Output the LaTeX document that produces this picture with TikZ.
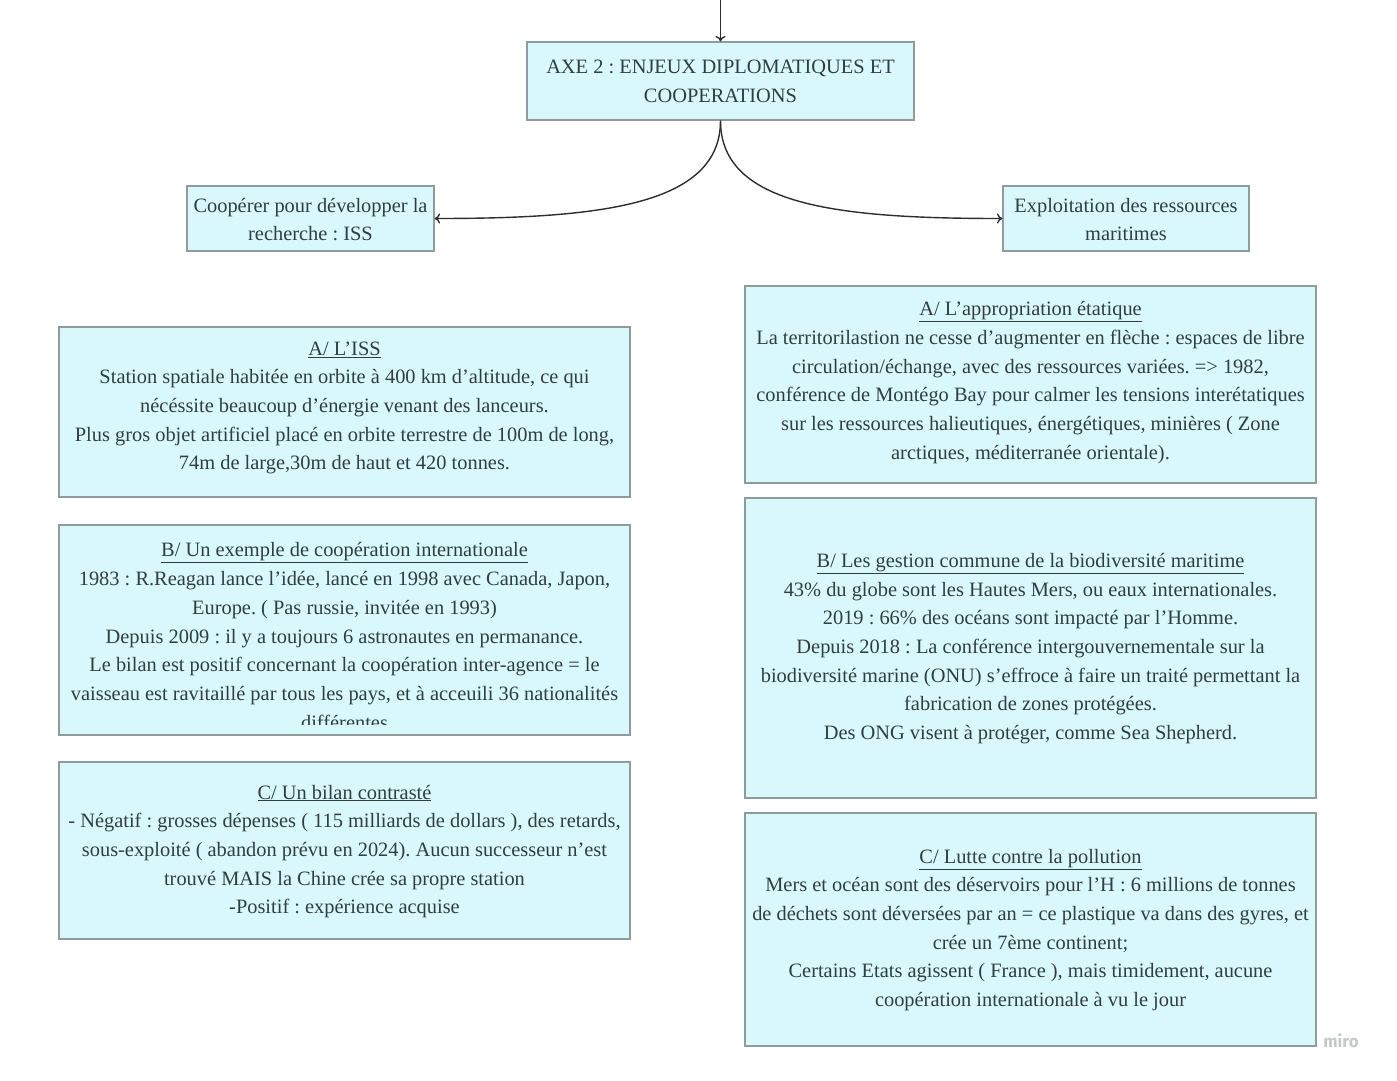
\documentclass[tikz,border=0pt]{standalone}
\usepackage{fontspec}
\setmainfont{Liberation Serif}
\newfontfamily\wmfont{Fira Sans}
\usetikzlibrary{arrows.meta}
\definecolor{boxfill}{HTML}{D9F8FB}
\definecolor{boxline}{HTML}{8E9C9C}
\definecolor{txt}{HTML}{2F3F40}
\definecolor{wirec}{HTML}{2E2E2E}
\definecolor{wmark}{HTML}{C4C8C8}
\begin{document}
\frenchspacing
\begin{tikzpicture}[x=1pt,y=-1pt,
 box/.style={draw=boxline, fill=boxfill, line width=1.2pt, inner sep=0pt},
 body/.style={text=txt, align=center, font=\fontsize{20.4}{28.7}\selectfont\frenchspacing, inner sep=0pt, yshift=-1.5pt},
 wire/.style={draw=wirec, line width=1.4pt, -{To[length=5.5pt,width=10pt]}}]

\useasboundingbox[fill=white] (0,0) rectangle (1397,1080);

% boxes
\node[box, minimum width=387, minimum height=78] (main) at (720.5,81) {};
\node[box, minimum width=247, minimum height=65] (left) at (310.5,218.5) {};
\node[box, minimum width=246, minimum height=65] (right) at (1126,218.5) {};
\node[box, minimum width=571, minimum height=170] (la) at (344.5,412) {};
\node[box, minimum width=571, minimum height=210] (lb) at (344.5,630) {};
\node[box, minimum width=571, minimum height=177] (lc) at (344.5,850.5) {};
\node[box, minimum width=571, minimum height=197] (ra) at (1030.5,384.5) {};
\node[box, minimum width=571, minimum height=300] (rb) at (1030.5,648) {};
\node[box, minimum width=571, minimum height=233] (rc) at (1030.5,929.5) {};

% texts
\node[body] (mainT) at (720.5,79.5) {AXE 2 : ENJEUX DIPLOMATIQUES ET\\COOPERATIONS};
\node[body] (leftT) at (310.5,218) {Coopérer pour développer la\\recherche : ISS};
\node[body] (rightT) at (1126,218) {Exploitation des ressources\\maritimes};

\node[body] (laT) at (344.5,406.5) {\underline{A/ L'ISS}\\
Station spatiale habitée en orbite à 400 km d'altitude, ce qui\\
nécéssite beaucoup d'énergie venant des lanceurs.\\
Plus gros objet artificiel placé en orbite terrestre de 100m de long,\\
74m de large,30m de haut et 420 tonnes.};

\begin{scope}
\clip (lb.north west) rectangle (630,724);
\node[body] (lbT) at (344.5,634.5) {\underline{B/ Un exemple de coopération internationale}\\
1983 : R.Reagan lance l'idée, lancé en 1998 avec Canada, Japon,\\
Europe. ( Pas russie, invitée en 1993)\\
Depuis 2009 : il y a toujours 6 astronautes en permanance.\\
Le bilan est positif concernant la coopération inter-agence = le\\
vaisseau est ravitaillé par tous les pays, et à acceuili 36 nationalités\\
différentes};
\end{scope}

\node[body] (lcT) at (344.5,850) {\underline{C/ Un bilan contrasté}\\
- Négatif : grosses dépenses ( 115 milliards de dollars ), des retards,\\
sous-exploité ( abandon prévu en 2024). Aucun successeur n'est\\
trouvé MAIS la Chine crée sa propre station\\
-Positif : expérience acquise};

\node[body] (raT) at (1030.5,381) {\underline{A/ L'appropriation étatique}\\
La territorilastion ne cesse d'augmenter en flèche : espaces de libre\\
circulation/échange, avec des ressources variées. => 1982,\\
conférence de Montégo Bay pour calmer les tensions interétatiques\\
sur les ressources halieutiques, énergétiques, minières ( Zone\\
arctiques, méditerranée orientale).};

\node[body] (rbT) at (1030.5,647) {\underline{B/ Les gestion commune de la biodiversité maritime}\\
43\% du globe sont les Hautes Mers, ou eaux internationales.\\
2019 : 66\% des océans sont impacté par l'Homme.\\
Depuis 2018 : La conférence intergouvernementale sur la\\
biodiversité marine (ONU) s'effroce à faire un traité permettant la\\
fabrication de zones protégées.\\
Des ONG visent à protéger, comme Sea Shepherd.};

\node[body] (rcT) at (1030.5,928.5) {\underline{C/ Lutte contre la pollution}\\
Mers et océan sont des déservoirs pour l'H : 6 millions de tonnes\\
de déchets sont déversées par an = ce plastique va dans des gyres, et\\
crée un 7ème continent;\\
Certains Etats agissent ( France ), mais timidement, aucune\\
coopération internationale à vu le jour};

\node[text=wmark, font=\wmfont\fontsize{17}{17}\selectfont\bfseries, inner sep=0pt] (miro) at (1341,1041) {miro};

% connectors
\coordinate (top) at (720.5,0);
\draw[wire] (top) -- (main.north);
\draw[wire] (main.south) .. controls +(0,85) and +(165,0) .. (left.east);
\draw[wire] (main.south) .. controls +(0,85) and +(-165,0) .. (right.west);
\end{tikzpicture}
\end{document}
